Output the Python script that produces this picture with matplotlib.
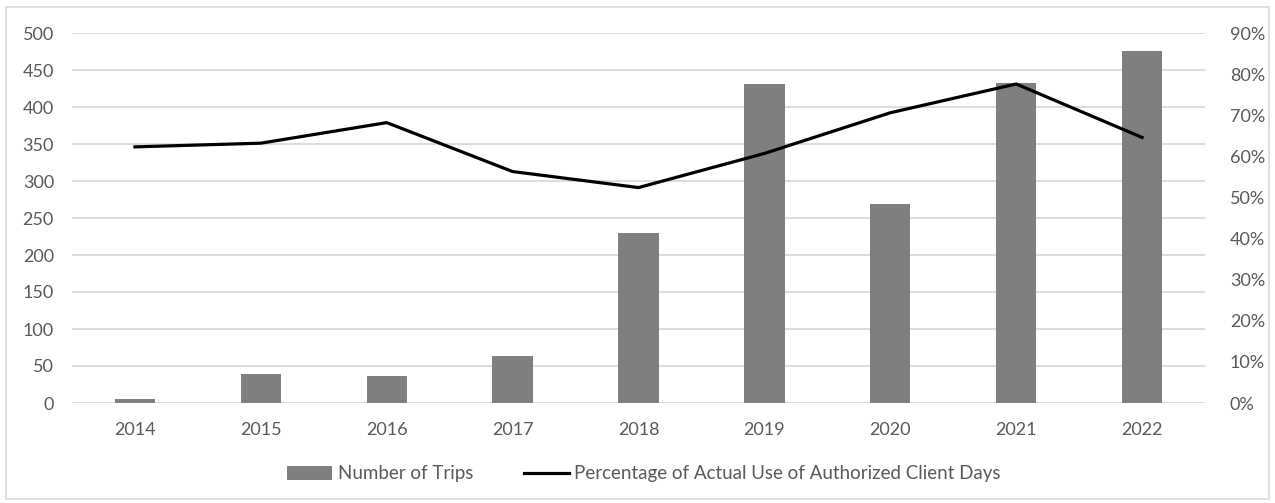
import matplotlib
matplotlib.use("Agg")
import matplotlib.pyplot as plt
from matplotlib.ticker import FuncFormatter, MultipleLocator
from matplotlib.patches import Rectangle

years = ["2014", "2015", "2016", "2017", "2018", "2019", "2020", "2021", "2022"]
trips = [5, 39, 36, 64, 230, 431, 269, 432, 476]
pct_use = [62.3, 63.2, 68.2, 56.3, 52.4, 60.7, 70.6, 77.6, 64.6]

plt.rcParams['font.family'] = ['Lato', 'DejaVu Sans']
txt = '#595959'
grid = '#d9d9d9'

fig = plt.figure(figsize=(12.75, 5.03), dpi=100)
ax = fig.add_axes([72/1275, 1-403/503, (1205-72)/1275, (403-33)/503])
x = list(range(len(years)))
bars = ax.bar(x, trips, width=0.32, color='#7f7f7f', label='Number of Trips', zorder=2)
ax.set_ylim(0, 500)
ax.set_xlim(-0.5, len(years)-0.5)
ax.yaxis.set_major_locator(MultipleLocator(50))
ax.set_xticks(x)
ax.set_xticklabels(years)
ax.grid(axis='y', color=grid, linewidth=1.3, zorder=0)
ax.set_axisbelow(True)
for s in ax.spines.values():
    s.set_visible(False)
ax.tick_params(length=0, colors=txt, labelsize=13)
ax.tick_params(axis='x', pad=14)
ax.tick_params(axis='y', pad=13)

ax2 = ax.twinx()
line, = ax2.plot(x, pct_use, color='black', linewidth=2.3,
                 label='Percentage of Actual Use of Authorized Client Days', zorder=3)
ax2.set_ylim(0, 90)
ax2.yaxis.set_major_locator(MultipleLocator(10))
ax2.yaxis.set_major_formatter(FuncFormatter(lambda v, p: f"{int(round(v))}%"))
for s in ax2.spines.values():
    s.set_visible(False)
ax2.tick_params(length=0, colors=txt, labelsize=13, pad=18)

fig.legend([bars, line], ['Number of Trips', 'Percentage of Actual Use of Authorized Client Days'],
           loc='center', bbox_to_anchor=(0.505, 1-474/503), ncol=2, frameon=False,
           fontsize=13.5, labelcolor=txt, handlelength=2.4, handletextpad=0.3, columnspacing=2.7)

fig.patches.append(Rectangle((6/1275, 4/503), 1263/1275, 492/503, transform=fig.transFigure,
                             fill=False, edgecolor='#d9d9d9', linewidth=1.2))
fig.savefig('out.png', dpi=100)
